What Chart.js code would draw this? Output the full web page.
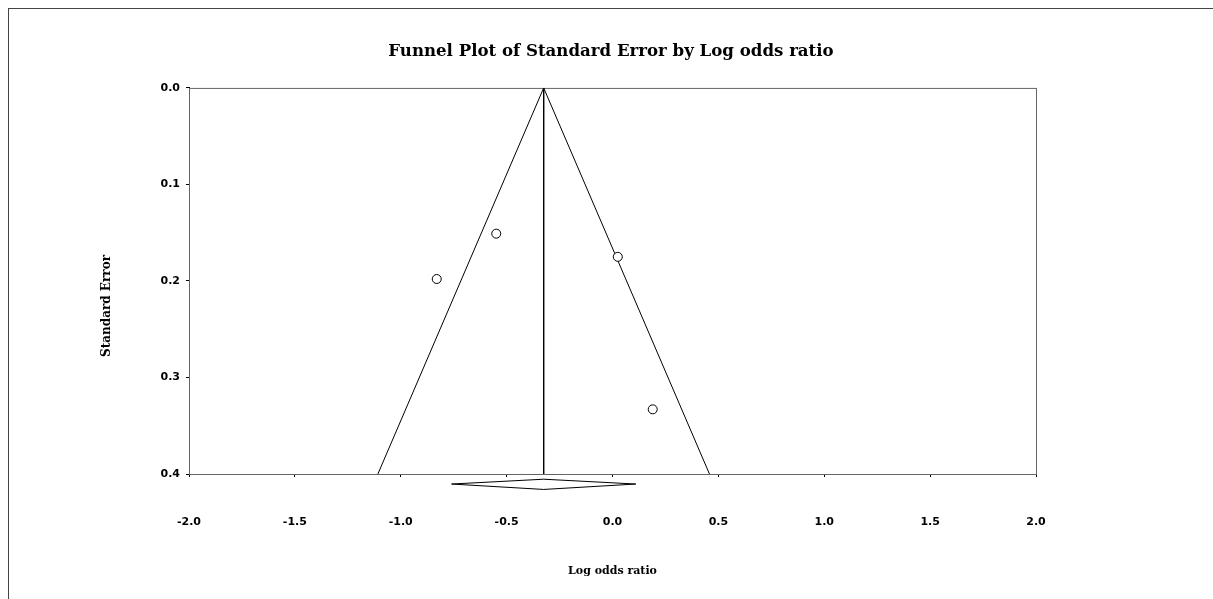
<!DOCTYPE html>
<html>
<head>
<meta charset="utf-8">
<title>Funnel Plot of Standard Error by Log odds ratio</title>
<script src="https://cdn.jsdelivr.net/npm/chart.js@4.4.1/dist/chart.umd.min.js"></script>
<style>
  html, body { margin: 0; padding: 0; background: #fff; overflow: hidden; }
  #frame {
    position: absolute; left: 8px; top: 8px; width: 1300px; height: 700px;
    border-top: 1px solid #444; border-left: 1px solid #444;
  }
  #chart { position: absolute; left: 0; top: 0; }
</style>
</head>
<body>
<div id="frame"></div>
<canvas id="chart" width="1213" height="599"></canvas>
<script>
// studies: log odds ratio vs standard error
const studyLogOR = [-0.549, -0.830, 0.025, 0.190];
const studySE = [0.151, 0.198, 0.175, 0.333];

// pooled estimate and funnel limits
const pooledLogOR = -0.325;
const funnelLeftX = [-1.108, -0.325];
const funnelRightX = [-0.325, 0.458];
const funnelY = [0.4, 0.0];
const funnelYRight = [0.0, 0.4];

// summary diamond under the axis
const diamondX = [-0.76, -0.325, 0.11, -0.325, -0.76];
const diamondY = [0.4104, 0.4054, 0.4104, 0.4160, 0.4104];

// axes
const xTicks = [-2.0, -1.5, -1.0, -0.5, 0.0, 0.5, 1.0, 1.5, 2.0];
const yTicks = [0.0, 0.1, 0.2, 0.3, 0.4];
const yTitle = 'Standard Error';

const pairs = (xs, ys) => xs.map((x, i) => ({ x: x, y: ys[i] }));

// grey box round the plot, left and bottom get the black axis lines on top
const plotBox = {
  id: 'plotBox',
  beforeDatasetsDraw(chart) {
    const { ctx, chartArea: a } = chart;
    ctx.save();
    ctx.strokeStyle = '#666';
    ctx.lineWidth = 1;
    ctx.strokeRect(a.left + 0.5, a.top + 0.5, a.right - a.left, a.bottom - a.top);
    ctx.restore();
  }
};

// y axis title sits a little below the middle of the axis in the original
const yAxisTitle = {
  id: 'yAxisTitle',
  afterDraw(chart) {
    const { ctx } = chart;
    const y = chart.scales.y;
    ctx.save();
    ctx.translate(107, (y.top + y.bottom) / 2 + 25);
    ctx.rotate(-Math.PI / 2);
    ctx.font = 'bold 12px "DejaVu Serif"';
    ctx.fillStyle = '#000';
    ctx.textAlign = 'center';
    ctx.textBaseline = 'middle';
    ctx.fillText(yTitle, 0, 0);
    ctx.restore();
  }
};

const lineStyle = {
  type: 'line',
  borderColor: '#000',
  borderWidth: 1,
  pointRadius: 0,
  fill: false,
  tension: 0
};

const tickFont = { family: 'DejaVu Sans', size: 11, weight: 'bold' };

new Chart(document.getElementById('chart'), {
  type: 'scatter',
  data: {
    datasets: [
      {
        label: 'Studies',
        data: pairs(studyLogOR, studySE),
        pointStyle: 'circle',
        pointRadius: 4.5,
        pointBorderWidth: 1,
        borderColor: '#000',
        backgroundColor: '#fff'
      },
      Object.assign({ label: 'Funnel left', data: pairs(funnelLeftX, funnelY) }, lineStyle),
      Object.assign({ label: 'Funnel right', data: pairs(funnelRightX, funnelYRight) }, lineStyle),
      Object.assign({ label: 'Pooled', data: pairs([pooledLogOR, pooledLogOR], [0.0, 0.4]) }, lineStyle),
      Object.assign({ label: 'Diamond', data: pairs(diamondX, diamondY), clip: false }, lineStyle)
    ]
  },
  options: {
    responsive: false,
    animation: false,
    layout: { padding: { left: 9, right: 0, top: 0, bottom: 0 } },
    plugins: {
      legend: { display: false },
      tooltip: { enabled: false },
      title: {
        display: true,
        text: 'Funnel Plot of Standard Error by Log odds ratio',
        color: '#000',
        font: { family: 'DejaVu Serif', size: 16.6, weight: 'bold', lineHeight: 1.2 },
        padding: { top: 42, bottom: 26 }
      }
    },
    scales: {
      x: {
        type: 'linear',
        min: -2, max: 2,
        afterFit(scale) { scale.height = 125; },
        afterBuildTicks(scale) { scale.ticks = xTicks.map(v => ({ value: v })); },
        border: { display: true, color: '#000', width: 1 },
        grid: { display: true, drawOnChartArea: false, drawTicks: true, tickLength: 3, color: '#000' },
        ticks: {
          color: '#000',
          padding: 39,
          maxRotation: 0,
          font: tickFont,
          callback: v => v.toFixed(1)
        },
        title: {
          display: true,
          text: 'Log odds ratio',
          color: '#000',
          font: { family: 'DejaVu Serif', size: 11, weight: 'bold', lineHeight: 1.2 },
          padding: { top: 0, bottom: 21 }
        }
      },
      y: {
        type: 'linear',
        reverse: true,
        min: 0, max: 0.4,
        afterFit(scale) { scale.width = 180; },
        afterBuildTicks(scale) { scale.ticks = yTicks.map(v => ({ value: v })); },
        border: { display: true, color: '#000', width: 1 },
        grid: { display: true, drawOnChartArea: false, drawTicks: true, tickLength: 3, color: '#000' },
        ticks: {
          color: '#000',
          padding: 6,
          font: tickFont,
          callback: v => v.toFixed(1)
        },
        title: { display: false }
      },
      // empty right-hand axis, only keeps the space to the right of the plot
      yRight: {
        type: 'linear',
        position: 'right',
        afterFit(scale) { scale.width = 177; },
        border: { display: false },
        grid: { display: false },
        ticks: { display: false }
      }
    }
  },
  plugins: [plotBox, yAxisTitle]
});
</script>
</body>
</html>
